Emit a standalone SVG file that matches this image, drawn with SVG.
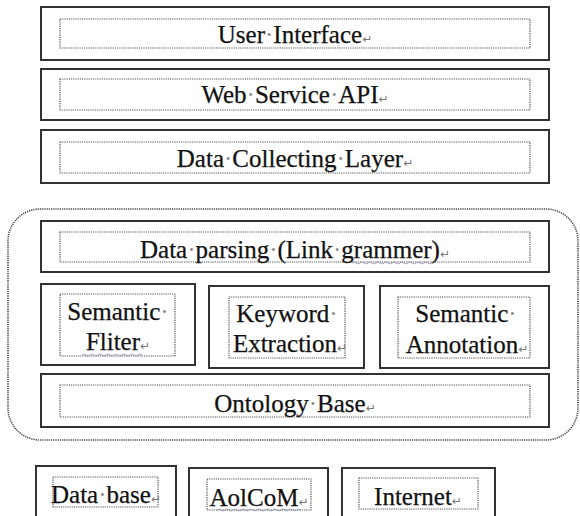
<svg xmlns="http://www.w3.org/2000/svg" width="580" height="516" viewBox="0 0 580 516">
<style>
.outer{fill:#fff;stroke:#333;stroke-width:2}
.inner{fill:none;stroke:#555;stroke-width:1.2;stroke-dasharray:1.2 1}
.cont{fill:none;stroke:#444;stroke-width:1.6;stroke-dasharray:1.2 1}
.t{font-family:"Liberation Serif","Times New Roman",serif;font-size:25px;fill:#111;stroke:#111;stroke-width:0.25;text-anchor:middle}
.d{fill:#888;stroke:none}
.r{font-family:"DejaVu Sans",sans-serif;font-size:12px;fill:#777;stroke:none}
.w{fill:none;stroke:#8a8aa8;stroke-width:0.8}
</style>
<rect width="580" height="516" fill="#fff"/>
<g id="container"><rect class="cont" x="8" y="209" width="570" height="231" rx="32" ry="32"/></g>
<g id="user-interface">
<rect class="outer" x="41" y="7" width="508" height="53"/>
<rect class="inner" x="60" y="19" width="470" height="29"/>
<text class="t" x="295" y="43">User<tspan class="d">·</tspan>Interface<tspan class="r">↵</tspan></text>
</g>
<g id="web-service-api">
<rect class="outer" x="41" y="69" width="508" height="51"/>
<rect class="inner" x="60" y="79" width="470" height="31"/>
<text class="t" x="295" y="103">Web<tspan class="d">·</tspan>Service<tspan class="d">·</tspan>API<tspan class="r">↵</tspan></text>
</g>
<g id="data-collecting-layer">
<rect class="outer" x="41" y="130" width="508" height="53"/>
<rect class="inner" x="60" y="142" width="470" height="31"/>
<text class="t" x="295" y="167">Data<tspan class="d">·</tspan>Collecting<tspan class="d">·</tspan>Layer<tspan class="r">↵</tspan></text>
</g>
<g id="data-parsing">
<rect class="outer" x="41" y="221" width="508" height="51"/>
<rect class="inner" x="60" y="232" width="470" height="30"/>
<text class="t" x="295" y="258">Data<tspan class="d">·</tspan>parsing<tspan class="d">·</tspan>(Link<tspan class="d">·</tspan>grammer)<tspan class="r">↵</tspan></text>
<path class="w" d="M352 263 q2 -2 4 0 t4 0 t4 0 t4 0 t4 0 t4 0 t4 0 t4 0 t4 0 t4 0 t4 0 t4 0 t4 0 t4 0 t4 0 t4 0 t4 0 t4 0 t4 0 t4 0"/>
</g>
<g id="semantic-fliter">
<rect class="outer" x="41" y="284" width="154" height="81"/>
<rect class="inner" x="60" y="294" width="115" height="62"/>
<text class="t" x="118" y="320">Semantic<tspan class="d">·</tspan></text>
<text class="t" x="118" y="350">Fliter<tspan class="r">↵</tspan></text>
<path class="w" d="M82 355 q2 -2 4 0 t4 0 t4 0 t4 0 t4 0 t4 0 t4 0 t4 0 t4 0 t4 0 t4 0 t4 0 t4 0 t4 0 t4 0"/>
</g>
<g id="keyword-extraction">
<rect class="outer" x="209" y="286" width="155" height="82"/>
<rect class="inner" x="229" y="297" width="116" height="61"/>
<text class="t" x="287" y="322">Keyword<tspan class="d">·</tspan></text>
<text class="t" x="290" y="352">Extraction<tspan class="r">↵</tspan></text>
</g>
<g id="semantic-annotation">
<rect class="outer" x="380" y="286" width="169" height="82"/>
<rect class="inner" x="398" y="297" width="132" height="61"/>
<text class="t" x="466" y="322">Semantic<tspan class="d">·</tspan></text>
<text class="t" x="467" y="353">Annotation<tspan class="r">↵</tspan></text>
</g>
<g id="ontology-base">
<rect class="outer" x="41" y="374" width="508" height="53"/>
<rect class="inner" x="60" y="385" width="470" height="32"/>
<text class="t" x="295" y="412">Ontology<tspan class="d">·</tspan>Base<tspan class="r">↵</tspan></text>
</g>
<g id="data-base">
<rect class="outer" x="36" y="466" width="140" height="70"/>
<rect class="inner" x="53" y="477" width="105" height="30"/>
<text class="t" x="106" y="503">Data<tspan class="d">·</tspan>base<tspan class="r">↵</tspan></text>
</g>
<g id="aolcom">
<rect class="outer" x="189" y="468" width="139" height="70"/>
<rect class="inner" x="207" y="479" width="104" height="31"/>
<text class="t" x="259" y="506">AolCoM<tspan class="r">↵</tspan></text>
<path class="w" d="M217 510 q2 -2 4 0 t4 0 t4 0 t4 0 t4 0 t4 0 t4 0 t4 0 t4 0 t4 0 t4 0 t4 0 t4 0 t4 0 t4 0 t4 0 t4 0 t4 0 t4 0 t4 0 t4 0"/>
</g>
<g id="internet">
<rect class="outer" x="342" y="468" width="153" height="70"/>
<rect class="inner" x="359" y="478" width="119" height="31"/>
<text class="t" x="418" y="505">Internet<tspan class="r">↵</tspan></text>
</g>
<g id="connectors"></g>
</svg>
